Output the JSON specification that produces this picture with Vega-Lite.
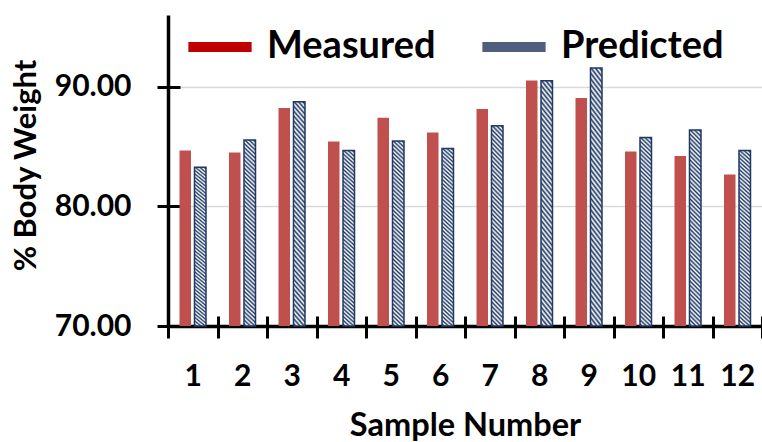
{
  "$schema": "https://vega.github.io/schema/vega-lite/v6.json",
  "autosize": "none",
  "width": 594,
  "height": 311,
  "padding": {"left": 168, "top": 15, "right": 0, "bottom": 116},
  "background": "white",
  "config": {
    "font": "Lato",
    "view": {"stroke": null},
    "axis": {"labelFont": "Lato", "titleFont": "Lato", "labelFontWeight": "bold", "titleFontWeight": "bold", "labelColor": "#000000", "titleColor": "#000000", "domainColor": "#000000", "tickColor": "#000000"}
  },
  "data": {
    "values": [
      {"Sample": 1, "Series": "Measured", "Value": 84.67},
      {"Sample": 1, "Series": "Predicted", "Value": 83.28},
      {"Sample": 2, "Series": "Measured", "Value": 84.5},
      {"Sample": 2, "Series": "Predicted", "Value": 85.56},
      {"Sample": 3, "Series": "Measured", "Value": 88.22},
      {"Sample": 3, "Series": "Predicted", "Value": 88.75},
      {"Sample": 4, "Series": "Measured", "Value": 85.42},
      {"Sample": 4, "Series": "Predicted", "Value": 84.67},
      {"Sample": 5, "Series": "Measured", "Value": 87.42},
      {"Sample": 5, "Series": "Predicted", "Value": 85.47},
      {"Sample": 6, "Series": "Measured", "Value": 86.17},
      {"Sample": 6, "Series": "Predicted", "Value": 84.83},
      {"Sample": 7, "Series": "Measured", "Value": 88.14},
      {"Sample": 7, "Series": "Predicted", "Value": 86.75},
      {"Sample": 8, "Series": "Measured", "Value": 90.53},
      {"Sample": 8, "Series": "Predicted", "Value": 90.5},
      {"Sample": 9, "Series": "Measured", "Value": 89.06},
      {"Sample": 9, "Series": "Predicted", "Value": 91.56},
      {"Sample": 10, "Series": "Measured", "Value": 84.58},
      {"Sample": 10, "Series": "Predicted", "Value": 85.75},
      {"Sample": 11, "Series": "Measured", "Value": 84.22},
      {"Sample": 11, "Series": "Predicted", "Value": 86.39},
      {"Sample": 12, "Series": "Measured", "Value": 82.67},
      {"Sample": 12, "Series": "Predicted", "Value": 84.67}
    ]
  },
  "resolve": {"axis": {"x": "independent", "y": "independent"}},
  "layer": [
    {
      "transform": [{"filter": "datum.Series === 'Measured'"}],
      "mark": {"type": "bar", "color": "#C0504D"},
      "encoding": {
        "x": {
          "field": "Sample", "type": "ordinal",
          "scale": {"paddingInner": 0, "paddingOuter": 0},
          "axis": {
            "orient": "bottom", "title": "Sample Number", "labelAngle": 0,
            "labelFontSize": 30, "labelBaseline": "alphabetic", "labelPadding": 69,
            "ticks": true, "tickSize": -10, "tickWidth": 3, "tickBand": "extent",
            "domainWidth": 3.5, "grid": false,
            "titleFontSize": 32.5, "titleX": 297, "titleY": 109, "titleBaseline": "alphabetic", "titleAlign": "center"
          }
        },
        "xOffset": {
          "field": "Series", "type": "nominal",
          "scale": {"domain": ["Measured", "Predicted"], "paddingInner": 0.2333, "paddingOuter": 0.7667}
        },
        "y": {
          "field": "Value", "type": "quantitative",
          "scale": {"domain": [70, 96], "zero": false, "nice": false},
          "axis": {
            "orient": "left", "title": "% Body Weight", "values": [70, 80, 90], "format": ".2f",
            "labelFontSize": 30, "labelPadding": 49, "labelBaseline": "middle",
            "ticks": true, "tickSize": -12, "tickWidth": 3, "domainWidth": 3.5,
            "grid": true, "gridColor": "#D9D9D9", "gridWidth": 1.5,
            "titleFontSize": 31, "titleX": -133, "titleY": 150, "titleBaseline": "alphabetic", "titleAlign": "center", "titleAngle": -90
          }
        },
        "y2": {"datum": 70}
      }
    },
    {
      "transform": [{"filter": "datum.Series === 'Predicted'"}],
      "mark": {
        "type": "bar", "stroke": "#1F3864", "strokeWidth": 1.5,
        "fill": {
          "gradient": "linear", "x1": 0, "y1": 1, "x2": 0.062, "y2": -0.055,
          "stops": [
            {"offset": 0, "color": "#FFFFFF"}, {"offset": 0.010417, "color": "#1F3864"},
            {"offset": 0.020833, "color": "#FFFFFF"}, {"offset": 0.03125, "color": "#1F3864"},
            {"offset": 0.041667, "color": "#FFFFFF"}, {"offset": 0.052083, "color": "#1F3864"},
            {"offset": 0.0625, "color": "#FFFFFF"}, {"offset": 0.072917, "color": "#1F3864"},
            {"offset": 0.083333, "color": "#FFFFFF"}, {"offset": 0.09375, "color": "#1F3864"},
            {"offset": 0.104167, "color": "#FFFFFF"}, {"offset": 0.114583, "color": "#1F3864"},
            {"offset": 0.125, "color": "#FFFFFF"}, {"offset": 0.135417, "color": "#1F3864"},
            {"offset": 0.145833, "color": "#FFFFFF"}, {"offset": 0.15625, "color": "#1F3864"},
            {"offset": 0.166667, "color": "#FFFFFF"}, {"offset": 0.177083, "color": "#1F3864"},
            {"offset": 0.1875, "color": "#FFFFFF"}, {"offset": 0.197917, "color": "#1F3864"},
            {"offset": 0.208333, "color": "#FFFFFF"}, {"offset": 0.21875, "color": "#1F3864"},
            {"offset": 0.229167, "color": "#FFFFFF"}, {"offset": 0.239583, "color": "#1F3864"},
            {"offset": 0.25, "color": "#FFFFFF"}, {"offset": 0.260417, "color": "#1F3864"},
            {"offset": 0.270833, "color": "#FFFFFF"}, {"offset": 0.28125, "color": "#1F3864"},
            {"offset": 0.291667, "color": "#FFFFFF"}, {"offset": 0.302083, "color": "#1F3864"},
            {"offset": 0.3125, "color": "#FFFFFF"}, {"offset": 0.322917, "color": "#1F3864"},
            {"offset": 0.333333, "color": "#FFFFFF"}, {"offset": 0.34375, "color": "#1F3864"},
            {"offset": 0.354167, "color": "#FFFFFF"}, {"offset": 0.364583, "color": "#1F3864"},
            {"offset": 0.375, "color": "#FFFFFF"}, {"offset": 0.385417, "color": "#1F3864"},
            {"offset": 0.395833, "color": "#FFFFFF"}, {"offset": 0.40625, "color": "#1F3864"},
            {"offset": 0.416667, "color": "#FFFFFF"}, {"offset": 0.427083, "color": "#1F3864"},
            {"offset": 0.4375, "color": "#FFFFFF"}, {"offset": 0.447917, "color": "#1F3864"},
            {"offset": 0.458333, "color": "#FFFFFF"}, {"offset": 0.46875, "color": "#1F3864"},
            {"offset": 0.479167, "color": "#FFFFFF"}, {"offset": 0.489583, "color": "#1F3864"},
            {"offset": 0.5, "color": "#FFFFFF"}, {"offset": 0.510417, "color": "#1F3864"},
            {"offset": 0.520833, "color": "#FFFFFF"}, {"offset": 0.53125, "color": "#1F3864"},
            {"offset": 0.541667, "color": "#FFFFFF"}, {"offset": 0.552083, "color": "#1F3864"},
            {"offset": 0.5625, "color": "#FFFFFF"}, {"offset": 0.572917, "color": "#1F3864"},
            {"offset": 0.583333, "color": "#FFFFFF"}, {"offset": 0.59375, "color": "#1F3864"},
            {"offset": 0.604167, "color": "#FFFFFF"}, {"offset": 0.614583, "color": "#1F3864"},
            {"offset": 0.625, "color": "#FFFFFF"}, {"offset": 0.635417, "color": "#1F3864"},
            {"offset": 0.645833, "color": "#FFFFFF"}, {"offset": 0.65625, "color": "#1F3864"},
            {"offset": 0.666667, "color": "#FFFFFF"}, {"offset": 0.677083, "color": "#1F3864"},
            {"offset": 0.6875, "color": "#FFFFFF"}, {"offset": 0.697917, "color": "#1F3864"},
            {"offset": 0.708333, "color": "#FFFFFF"}, {"offset": 0.71875, "color": "#1F3864"},
            {"offset": 0.729167, "color": "#FFFFFF"}, {"offset": 0.739583, "color": "#1F3864"},
            {"offset": 0.75, "color": "#FFFFFF"}, {"offset": 0.760417, "color": "#1F3864"},
            {"offset": 0.770833, "color": "#FFFFFF"}, {"offset": 0.78125, "color": "#1F3864"},
            {"offset": 0.791667, "color": "#FFFFFF"}, {"offset": 0.802083, "color": "#1F3864"},
            {"offset": 0.8125, "color": "#FFFFFF"}, {"offset": 0.822917, "color": "#1F3864"},
            {"offset": 0.833333, "color": "#FFFFFF"}, {"offset": 0.84375, "color": "#1F3864"},
            {"offset": 0.854167, "color": "#FFFFFF"}, {"offset": 0.864583, "color": "#1F3864"},
            {"offset": 0.875, "color": "#FFFFFF"}, {"offset": 0.885417, "color": "#1F3864"},
            {"offset": 0.895833, "color": "#FFFFFF"}, {"offset": 0.90625, "color": "#1F3864"},
            {"offset": 0.916667, "color": "#FFFFFF"}, {"offset": 0.927083, "color": "#1F3864"},
            {"offset": 0.9375, "color": "#FFFFFF"}, {"offset": 0.947917, "color": "#1F3864"},
            {"offset": 0.958333, "color": "#FFFFFF"}, {"offset": 0.96875, "color": "#1F3864"},
            {"offset": 0.979167, "color": "#FFFFFF"}, {"offset": 0.989583, "color": "#1F3864"},
            {"offset": 1, "color": "#FFFFFF"}
          ]
        }
      },
      "encoding": {
        "x": {
          "field": "Sample", "type": "ordinal",
          "axis": {"orient": "bottom", "title": null, "labels": false, "domain": false, "grid": false, "tickSize": 12, "tickWidth": 3, "tickBand": "extent"}
        },
        "xOffset": {"field": "Series", "type": "nominal"},
        "y": {
          "field": "Value", "type": "quantitative",
          "axis": {"orient": "left", "title": null, "labels": false, "domain": false, "grid": false, "values": [70, 80, 90], "tickSize": 11, "tickWidth": 3}
        },
        "y2": {"datum": 70}
      }
    },
    {
      "mark": {"type": "square", "filled": true, "opacity": 0},
      "encoding": {
        "x": {"field": "Sample", "type": "ordinal", "axis": null},
        "y": {"field": "Value", "type": "quantitative", "axis": null},
        "color": {
          "field": "Series", "type": "nominal",
          "scale": {"domain": ["Measured", "Predicted"], "range": ["#C00000", "#4F5E7C"]},
          "legend": {
            "title": null, "orient": "none", "direction": "horizontal", "legendX": 20, "legendY": 0,
            "padding": 0, "labelFont": "Lato", "labelFontSize": 38, "labelFontWeight": "bold", "labelColor": "#000000",
            "symbolType": "M-1,-0.16H1V0.16H-1Z", "symbolSize": 4000, "symbolStrokeWidth": 0, "symbolOpacity": 1,
            "labelOffset": 15, "columnPadding": 46, "labelLimit": 400
          }
        }
      }
    }
  ]
}
